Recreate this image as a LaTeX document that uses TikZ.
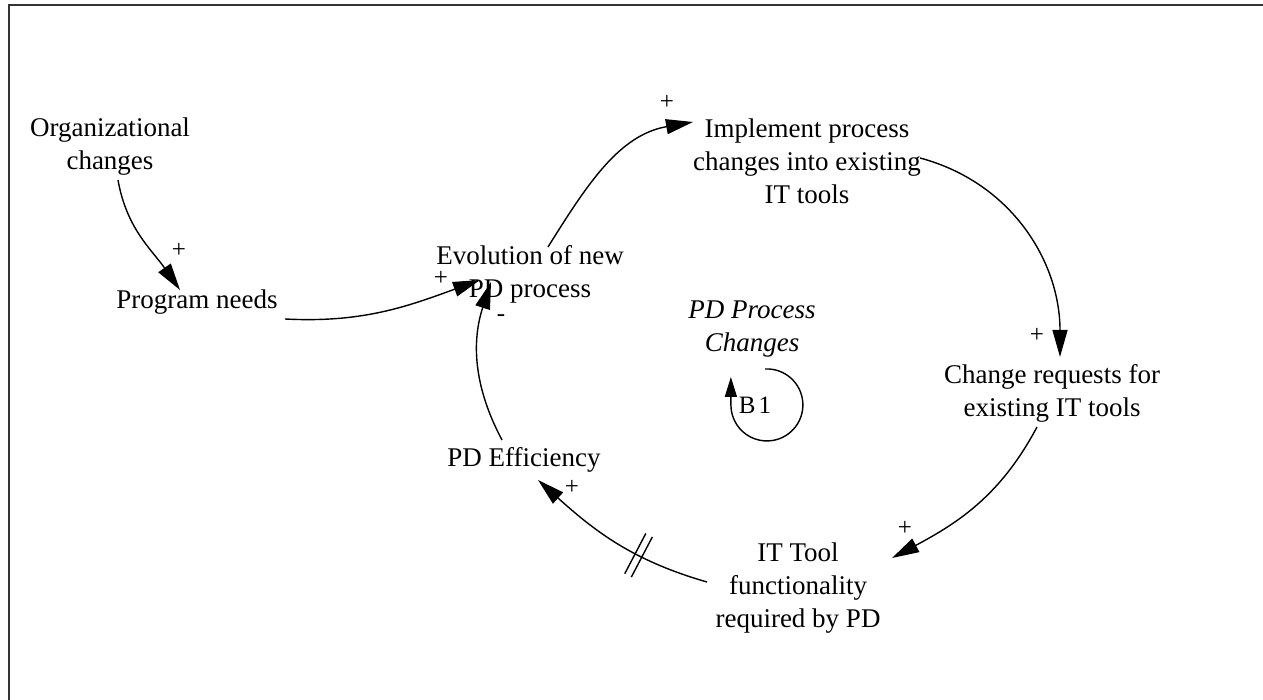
\documentclass[tikz,border=0pt]{standalone}
\usepackage{fontspec}
\setmainfont{Liberation Serif}
\usetikzlibrary{arrows.meta}
\begin{document}
\begin{tikzpicture}[x=1pt,y=1pt,
  var/.style={align=center,inner sep=1pt,font=\fontsize{27}{33}\selectfont},
  tip/.style={-{Triangle[length=27pt,width=15pt]}},
  link/.style={line width=1.4pt,tip},
  pol/.style={font=\fontsize{25}{27}\selectfont,inner sep=0pt},
  frameline/.style={line width=1.6pt,black!80}]
\useasboundingbox (0,0) rectangle (1263,700);
% page frame
\draw[frameline] (9,0) -- (9,695) -- (1263,695);

% variables
\node[var] (org)  at (110,553) {Organizational\\changes};
\node[var] (prog) at (197,398) {Program needs};
\node[var] (evo)  at (530,426) {Evolution of new\\PD process};
\node[var] (impl) at (807,539) {Implement process\\changes into existing\\IT tools};
\node[var] (chg)  at (1052,307) {Change requests for\\existing IT tools};
\node[var] (itt)  at (798,112) {IT Tool\\functionality\\required by PD};
\node[var] (eff)  at (524,240) {PD Efficiency};

% loop label and balancing-loop marker
\node[var,font=\fontsize{27}{33}\selectfont\itshape] (loopname) at (752,371) {PD Process\\Changes};
\node[var,font=\fontsize{25}{30}\selectfont] (b1) at (755,295) {B\kern3pt 1};
\coordinate (loopc) at (767,295);
\draw[line width=1.4pt,-{Triangle[length=20pt,width=12pt]}]
  ([xshift=-2pt,yshift=36pt]loopc) arc[start angle=93,end angle=-180,radius=36pt]
  -- ++(0,28pt);

% causal links
\draw[link] ([shift={(8,-33)}]org.center) to[out=-80,in=125]
  ([shift={(-17,12)}]prog.center);
\draw[link] ([shift={(88,-17)}]prog.center) to[out=-3,in=200]
  ([shift={(-50,-6)}]evo.center);
\draw[link] ([shift={(-22,20)}]eff.center) to[out=118,in=252]
  ([shift={(-39,-8)}]evo.center);
\draw[link] ([shift={(18,27)}]evo.center) to[out=58,in=190]
  ([shift={(-114,39)}]impl.center);
\draw[link] ([shift={(113,3)}]impl.center) to[out=-15,in=90]
  ([shift={(8,36)}]chg.center);
\draw[link] ([shift={(-15,-34)}]chg.center) to[out=-118,in=28]
  ([shift={(94,30)}]itt.center);
\draw[link] ([shift={(-91,6)}]itt.center) to[out=164,in=-42]
  node[sloped,pos=0.36,minimum width=6pt,minimum height=44pt,inner sep=0pt] (dly) {}
  ([shift={(14,-20)}]eff.center);
% delay mark
\draw[line width=1.4pt] (dly.north west) -- (dly.south west)
  (dly.north east) -- (dly.south east);

% link polarities
\node[pol] (p1) at (179,450) {+};
\node[pol] (p2) at (441,422) {+};
\node[pol] (p3) at (501,382) {-};
\node[pol] (p4) at (667,598) {+};
\node[pol] (p5) at (1037,365) {+};
\node[pol] (p6) at (905,172) {+};
\node[pol] (p7) at (572,213) {+};
\end{tikzpicture}
\end{document}
